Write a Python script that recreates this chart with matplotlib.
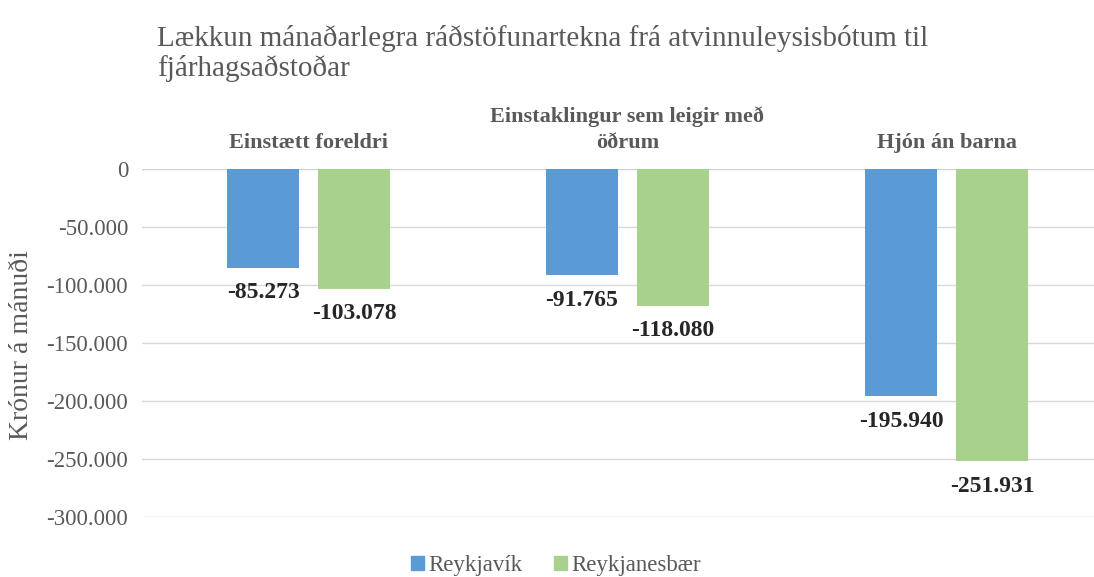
import matplotlib
matplotlib.use("Agg")
import matplotlib.pyplot as plt
from matplotlib.patches import Patch

categories = ["Einstætt foreldri", "Einstaklingur sem leigir með\nöðrum", "Hjón án barna"]
series_names = ["Reykjavík", "Reykjanesbær"]
reykjavik = [-85273, -91765, -195940]
reykjanesbaer = [-103078, -118080, -251931]
yticks = [0, -50000, -100000, -150000, -200000, -250000, -300000]
ytick_labels = ["0", "-50.000", "-100.000", "-150.000", "-200.000", "-250.000", "-300.000"]
title = "Lækkun mánaðarlegra ráðstöfunartekna frá atvinnuleysisbótum til\nfjárhagsaðstoðar"
ylabel = "Krónur á mánuði"

colors = ["#5B9BD5", "#A9D18E"]
grey = "#595959"
plt.rcParams['font.family'] = ['Liberation Serif', 'DejaVu Serif']

W, H = 1094, 577
fig = plt.figure(figsize=(W / 100, H / 100), dpi=100)
ax = fig.add_axes([142 / W, 1 - 517 / H, 1 - 142 / W, (517 - 169) / H])

unit = 319.0
x0 = 308.5
ax.set_xlim((142 - x0) / unit, (W - x0) / unit)
ax.set_ylim(-300000, 0)

bw = 72 / unit
off = 45.5 / unit
xs = list(range(len(categories)))
for vals, c, sgn in [(reykjavik, colors[0], -1), (reykjanesbaer, colors[1], 1)]:
    pos = [x + sgn * off for x in xs]
    ax.bar(pos, vals, width=bw, color=c, zorder=3)
    for p, v in zip(pos, vals):
        lab = f"{v:,}".replace(",", ".")
        ax.annotate(lab, (p, v), xytext=(0, -18), textcoords="offset points",
                    ha="center", va="center", fontsize=17, fontweight="bold",
                    color="#262626", zorder=4)

ax.set_yticks(yticks)
ax.set_yticklabels(ytick_labels, fontsize=16.5, color=grey)
ax.set_xticks([])
ax.tick_params(axis="y", length=0, pad=10)
ax.grid(axis="y", color="#D9D9D9", linewidth=1, zorder=0)
for s in ax.spines.values():
    s.set_visible(False)
ax.axhline(0, color="#D0D0D0", linewidth=1.5, zorder=2)

for x, cat in zip(xs, categories):
    ax.text(x, 13500, cat, ha="center", va="bottom",
            fontsize=16, fontweight="bold", color=grey, clip_on=False,
            linespacing=1.45)

fig.text(22 / W, 1 - 345 / H, ylabel, rotation=90, ha="center", va="center",
         fontsize=20, color=grey)
fig.text(157 / W, 1 - 25 / H, title, ha="left", va="top", fontsize=21,
         color=grey, linespacing=1.15)

handles = [Patch(color=c, label=n) for c, n in zip(colors, series_names)]
leg = fig.legend(handles=handles, loc="center", bbox_to_anchor=(556 / W, 1 - 566 / H),
                 ncol=2, frameon=False, fontsize=16.5, handlelength=0.55,
                 handleheight=0.55, handletextpad=0.2, columnspacing=1.4)
for t in leg.get_texts():
    t.set_color(grey)

fig.savefig("out.png", dpi=100)
